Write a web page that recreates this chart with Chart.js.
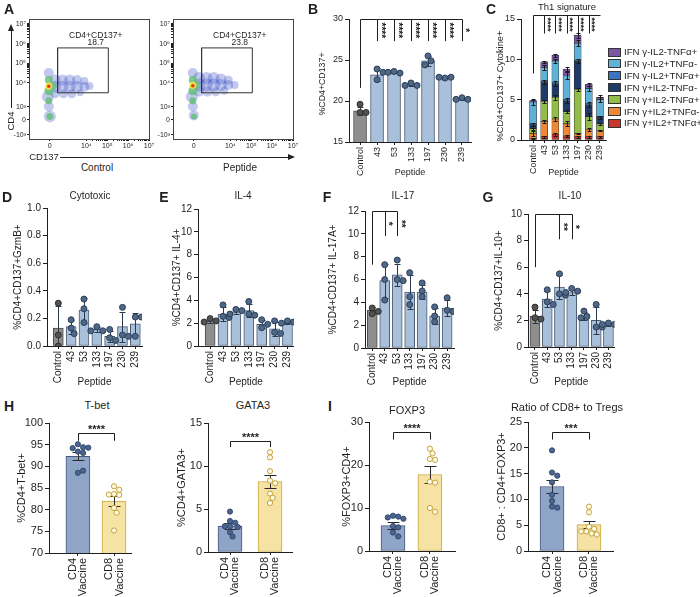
<!DOCTYPE html>
<html>
<head>
<meta charset="utf-8">
<title>Peptide response panels</title>
<script src="https://cdn.jsdelivr.net/npm/chart.js@4.4.1/dist/chart.umd.min.js"></script>
<style>
  body { margin:0; width:700px; height:597px; position:relative; overflow:hidden; background:#fff;
         font-family:'Liberation Sans', Arial, Helvetica, sans-serif; color:#1f1f1f; }
  canvas { position:absolute; }
  .t { position:absolute; white-space:nowrap; transform:translate(-50%,-50%); line-height:1; }
  .v { transform:translate(-50%,-50%) rotate(-90deg); }
  .ln { position:absolute; background:#222; }
  .sw { position:absolute; width:13px; height:9px; box-sizing:border-box; border:1px solid #333; }
</style>
</head>
<body>
<script>
// ---------- data ----------
const peptides = ['Control', '43', '53', '133', '197', '230', '239'];
const vaccines = [['CD4', 'Vaccine'], ['CD8', 'Vaccine']];

// A - flow plots (tick labels of the biexponential axes and the density blobs)
const flowXPos = [2.24, 4, 5, 6, 7];
const flowXLab = ['0', '10⁴', '10⁵', '10⁶', '10⁷'];
const flowYPos = [1.37, 2.13, 2.79, 4, 5, 6, 7];
const flowYLab = ['-10³', '0', '10³', '10⁴', '10⁵', '10⁶', '10⁷'];
const gateX = [2.62, 5.05];
const gateY = [3.5, 5.78];
const gateName = 'CD4+CD137+';
const gatePct = ['18.7', '23.8'];
const ctrlDotX = [2.5, 2.85, 3.2, 3.55, 3.9, 2.5, 2.85, 3.2, 3.55, 3.9, 4.15, 2.5, 2.9, 3.3, 3.7,
                  2.2, 2.15, 2.2, 2.25, 2.2, 2.2, 2.2, 2.25, 2.4, 2.2, 2.2];
const ctrlDotY = [4.15, 4.15, 4.15, 4.15, 4.1, 3.8, 3.8, 3.8, 3.8, 3.8, 3.85, 3.45, 3.45, 3.45, 3.5,
                  4.5, 3.3, 2.8, 2.3, 4.15, 3.6, 3.1, 2.3, 3.85, 3.85, 3.83];
const ctrlDotR = [5.5, 5.5, 5.5, 5, 4, 6, 6, 6, 6, 5, 4, 4.5, 4.5, 4.5, 3.5,
                  5, 6, 5, 6, 4, 4.5, 3.5, 3.5, 3.5, 3.5, 1.8];
const ctrlDotL = [0, 0, 0, 0, 0, 0, 0, 0, 0, 0, 0, 0, 0, 0, 0, 0, 0, 0, 0, 1, 1, 1, 1, 1, 2, 3];
const pepDotX = [2.5, 2.85, 3.2, 3.55, 3.9, 2.5, 2.85, 3.2, 3.55, 3.9, 4.2, 2.5, 2.9, 3.3, 3.7,
                 2.2, 2.15, 2.2, 2.25, 2.2, 2.2, 2.2, 2.25, 2.4, 2.2, 2.2];
const pepDotY = [4.25, 4.25, 4.25, 4.2, 4.15, 3.9, 3.9, 3.9, 3.9, 3.9, 3.9, 3.55, 3.55, 3.55, 3.6,
                 4.5, 3.3, 2.8, 2.35, 4.15, 3.6, 3.1, 2.3, 3.9, 3.88, 3.86];
const pepDotR = [6, 6, 6, 5.5, 4.5, 6.5, 6.5, 6.5, 6, 5, 4, 5, 5, 4.5, 4,
                 5, 6, 5, 5, 4, 4.5, 3.5, 3, 3.5, 3.5, 1.8];
const pepDotL = [0, 0, 0, 0, 0, 0, 0, 0, 0, 0, 0, 0, 0, 0, 0, 0, 0, 0, 0, 1, 1, 1, 1, 1, 2, 3];

// B - %CD4+CD137+
const bMean = [18.8, 23.2, 23.5, 22.0, 24.9, 22.9, 20.3];
const bErr = [0.5, 0.8, 0.1, 0.2, 0.6, 0.1, 0.2];
const bPts = [[19.6, 18.6, 18.6], [23.9, 23.5, 22.6], [23.6, 23.4, 23.5], [22.2, 21.9, 21.9],
              [25.5, 24.9, 24.4], [22.8, 22.9, 22.9], [20.4, 20.2, 20.2]];
const bSig = ['****', '****', '****', '****', '****', '*'];

// C - Th1 signature, stacked (bottom to top)
const cSeries = ['IFN γ+IL2+TNFα+', 'IFN γ+IL2+TNFα-', 'IFN γ+IL2-TNFα+', 'IFN γ+IL2-TNFα-',
                 'IFN γ-IL2+TNFα+', 'IFN γ-IL2+TNFα-', 'IFN γ-IL2-TNFα+'];
const cVals = [
  [0.2, 0.4, 0.7, 0.5, 0.4, 0.4, 0.4],
  [0.6, 1.9, 1.9, 1.5, 0.4, 0.9, 0.8],
  [0.6, 2.5, 2.7, 1.5, 5.5, 1.6, 0.8],
  [0.5, 2.4, 1.7, 1.4, 3.5, 1.5, 0.8],
  [0.1, 0.1, 0.1, 0.1, 0.1, 0.1, 0.1],
  [2.7, 1.7, 2.7, 3.0, 2.1, 1.9, 2.1],
  [0.2, 0.7, 0.7, 0.8, 1.0, 0.5, 0.3]
];
const cErr = [
  [0.1, 0.1, 0.2, 0.1, 0.1, 0.1, 0.1],
  [0.3, 0.2, 0.2, 0.3, 0.1, 0.2, 0.1],
  [0.1, 0.2, 0.3, 0.2, 0.2, 0.4, 0.1],
  [0.2, 0.3, 0.3, 0.3, 0.3, 0.3, 0.2],
  [0, 0, 0, 0, 0, 0, 0],
  [0.3, 0.3, 0.3, 0.4, 0.4, 0.3, 0.3],
  [0.2, 0.1, 0.2, 0.3, 0.3, 0.2, 0.3]
];
const cSig = ['****', '****', '****', '****', '****'];

// D - cytotoxic
const dMean = [0.13, 0.14, 0.26, 0.12, 0.07, 0.14, 0.16];
const dErr = [0.16, 0.05, 0.09, 0.02, 0.04, 0.11, 0.08];
const dPts = [[0.31, 0.08, 0.0], [0.19, 0.13, 0.09], [0.34, 0.27, 0.17], [0.14, 0.11, 0.11],
              [0.12, 0.06, 0.04], [0.28, 0.08, 0.07], [0.21, 0.21, 0.07]];

// E - IL-4
const eMean = [2.2, 2.8, 3.0, 3.1, 1.9, 1.5, 2.0];
const eErr = [0.15, 0.6, 0.2, 0.6, 0.35, 0.6, 0.1];
const ePts = [[2.4, 2.2, 2.1], [3.6, 2.6, 2.5], [3.2, 3.1, 2.8], [3.9, 2.8, 2.7],
              [2.3, 1.9, 1.6], [2.2, 1.2, 1.1], [2.2, 2.1, 2.0]];

// F - IL-17
const fMean = [3.3, 5.9, 6.4, 4.9, 4.9, 2.8, 3.5];
const fErr = [0.3, 1.5, 1.0, 1.5, 0.6, 0.7, 0.7];
const fPts = [[3.5, 3.2, 3.0], [7.3, 6.0, 4.2], [7.7, 6.0, 5.9], [6.6, 4.5, 3.8],
              [5.7, 5.0, 4.5], [3.6, 2.8, 2.3], [4.4, 3.3, 3.2]];
const fSig = ['*', '**'];

// G - IL-10
const gMean = [2.3, 3.6, 4.5, 4.1, 2.3, 2.0, 1.7];
const gErr = [0.5, 0.6, 0.9, 0.2, 0.3, 1.0, 0.1];
const gPts = [[3.0, 2.2, 2.1], [4.3, 3.4, 3.2], [5.5, 4.0, 3.9], [4.4, 4.2, 4.1],
              [2.7, 2.3, 2.2], [3.2, 1.5, 1.5], [1.8, 1.7, 1.7]];
const gSig = ['**', '*'];

// H / I - vaccines
const tbetMean = [92.3, 82.0];
const tbetErr = [0.9, 1.1];
const tbetPts = [[95.1, 94.4, 94.2, 94.3, 93.4, 93.1, 88.5, 89.0], [85.4, 84.6, 83.6, 83.4, 83.5, 80.4, 79.3, 75.2]];
const gataMean = [3.0, 8.2];
const gataErr = [0.35, 0.8];
const gataPts = [[4.7, 3.6, 3.4, 3.0, 3.0, 2.9, 2.3, 1.8], [11.6, 11.0, 9.4, 8.3, 8.0, 6.8, 6.3, 5.7]];
const foxMean = [5.9, 17.8];
const foxErr = [0.75, 2.0];
const foxPts = [[8.2, 8.0, 7.8, 7.5, 5.8, 5.5, 4.3, 3.4], [23.8, 22.7, 21.4, 21.2, 16.1, 15.9, 10.0, 9.1]];
const ratioMean = [12.5, 5.1];
const ratioErr = [1.3, 0.7];
const ratioPts = [[19.5, 15.2, 14.6, 13.3, 10.9, 9.7, 8.6, 8.4], [8.6, 7.5, 4.7, 4.3, 3.8, 3.8, 3.4, 3.2]];

// ---------- styling ----------
const ink = '#1f1f1f';
const fam = "'Liberation Sans', Arial, Helvetica, sans-serif";
Chart.defaults.font.family = fam;
Chart.defaults.color = ink;
Chart.defaults.animation = false;
Chart.defaults.plugins.legend.display = false;
Chart.defaults.plugins.tooltip.enabled = false;

const cColors = ['#c8362c', '#ec8838', '#93bd48', '#1f3b68', '#3a74c3', '#5fb2d7', '#7c56a3'];
const densityColors = ['rgba(40,62,192,0.28)', 'rgba(96,190,118,0.8)', 'rgba(244,226,60,0.95)', 'rgba(226,48,28,0.95)'];
const pepStyle = {
  fill: peptides.map((_, i) => i ? '#a9c0da' : '#8e8e8e'),
  edge: peptides.map((_, i) => i ? '#4a5b73' : '#4b4b4b'),
  dotFill: peptides.map((_, i) => i ? '#4f6888' : '#525252'),
  dotEdge: peptides.map((_, i) => i ? '#2c3e57' : '#2e2e2e'),
  errColor: '#2c3a4e'
};
const vacStyle = {
  fill: ['#8ea5c8', '#f6e3a3'],
  edge: ['#46597c', '#c8a845'],
  dotFill: ['#4a6590', '#fffbe8'],
  dotEdge: ['#344a6e', '#c4a238'],
  errColor: '#2a2a2a'
};

// ---------- helpers ----------
function addCanvas(box) {
  const c = document.createElement('canvas');
  c.width = box.w; c.height = box.h;
  c.style.left = box.x + 'px'; c.style.top = box.y + 'px';
  c.style.width = box.w + 'px'; c.style.height = box.h + 'px';
  document.body.appendChild(c);
  return c.getContext('2d');
}

function label(s, x, y, size, o) {
  o = o || {};
  const d = document.createElement('div');
  d.className = 't' + (o.rot ? ' v' : '');
  d.textContent = s;
  d.style.left = x + 'px'; d.style.top = y + 'px'; d.style.fontSize = size + 'px';
  if (o.bold) d.style.fontWeight = 'bold';
  if (o.left) d.style.transform = 'translate(0,-50%)';
  document.body.appendChild(d);
}

function rule(x, y, w, h) {
  const d = document.createElement('div');
  d.className = 'ln';
  Object.assign(d.style, { left: x + 'px', top: y + 'px', width: w + 'px', height: h + 'px' });
  document.body.appendChild(d);
}

function head(x, y, dir) {
  const d = document.createElement('div');
  d.style.position = 'absolute'; d.style.width = '0'; d.style.height = '0';
  if (dir === 'right') {
    Object.assign(d.style, { left: (x - 7) + 'px', top: (y - 3) + 'px', borderLeft: '7px solid #222',
      borderTop: '3px solid transparent', borderBottom: '3px solid transparent' });
  } else {
    Object.assign(d.style, { left: (x - 3) + 'px', top: y + 'px', borderBottom: '7px solid #222',
      borderLeft: '3px solid transparent', borderRight: '3px solid transparent' });
  }
  document.body.appendChild(d);
}

const crisp = v => Math.round(v) + 0.5;

// simple beeswarm so the replicate dots do not overlap
function swarm(groups, p) {
  const pxX = (p.area.r - p.area.l) / (p.xMax - p.xMin);
  const pxY = (p.area.b - p.area.t) / (p.yMax - p.yMin);
  const out = [];
  groups.forEach((vals, g) => {
    const placed = [];
    vals.forEach(v => {
      const py = v * pxY;
      let off = 0;
      for (let s = 0; s < 14; s++) {
        const c = s === 0 ? 0 : Math.ceil(s / 2) * p.dotR * (s % 2 ? 1 : -1);
        if (placed.every(q => Math.hypot(q.x - c, q.y - py) >= p.dotR * 1.9)) { off = c; break; }
      }
      placed.push({ x: off, y: py });
      out.push({ x: g + off / pxX, y: v, g: g });
    });
  });
  return out;
}

function errBars(sets) {
  return {
    id: 'errbars',
    afterDatasetDraw(chart, args) {
      const s = sets.find(q => q.ds === args.index);
      if (!s) return;
      const ctx = chart.ctx, ys = chart.scales.y;
      const k = Math.abs(ys.getPixelForValue(0) - ys.getPixelForValue(1));
      ctx.save();
      ctx.lineWidth = 1;
      ctx.strokeStyle = s.color;
      args.meta.data.forEach((el, i) => {
        const e = s.err[i];
        if (!e) return;
        const x = crisp(el.x), w = s.cap / 2;
        const top = crisp(el.y - e * k), bot = Math.min(crisp(el.y + e * k), ys.bottom);
        ctx.beginPath();
        ctx.moveTo(x, top); ctx.lineTo(x, bot);
        ctx.moveTo(x - w, top); ctx.lineTo(x + w, top);
        if (bot < ys.bottom) { ctx.moveTo(x - w, bot); ctx.lineTo(x + w, bot); }
        ctx.stroke();
      });
      ctx.restore();
    }
  };
}

// Prism style comb: control vs each peptide
function combSig(sp) {
  return {
    id: 'combsig',
    afterDraw(chart) {
      const ctx = chart.ctx, xs = chart.scales.x, ys = chart.scales.y;
      const yt = crisp(ys.getPixelForValue(sp.top));
      const yd = ys.getPixelForValue(sp.drop);
      const x0 = crisp(xs.getPixelForValue(0));
      ctx.save();
      ctx.strokeStyle = ink; ctx.lineWidth = 1;
      ctx.beginPath();
      ctx.moveTo(x0, ys.getPixelForValue(sp.ref)); ctx.lineTo(x0, yt);
      ctx.lineTo(crisp(xs.getPixelForValue(sp.end)), yt);
      sp.idx.forEach(i => { const x = crisp(xs.getPixelForValue(i)); ctx.moveTo(x, yt); ctx.lineTo(x, yd); });
      ctx.stroke();
      ctx.fillStyle = ink; ctx.font = 'bold ' + sp.fs + 'px ' + fam;
      ctx.textAlign = 'center'; ctx.textBaseline = 'alphabetic';
      sp.idx.forEach((i, j) => {
        ctx.save();
        ctx.translate(xs.getPixelForValue(i) + 0.5, (yt + yd) / 2);
        ctx.rotate(Math.PI / 2);
        ctx.fillText(sp.text[j], 0, 0);
        ctx.restore();
      });
      ctx.restore();
    }
  };
}

function pairSig(sp) {
  return {
    id: 'pairsig',
    afterDraw(chart) {
      const ctx = chart.ctx, xs = chart.scales.x, ys = chart.scales.y;
      const x0 = crisp(xs.getPixelForValue(0)), x1 = crisp(xs.getPixelForValue(1));
      const yl = crisp(ys.getPixelForValue(sp.y)), yt = ys.getPixelForValue(sp.tip);
      ctx.save();
      ctx.strokeStyle = ink; ctx.lineWidth = 1;
      ctx.beginPath();
      ctx.moveTo(x0, yt); ctx.lineTo(x0, yl); ctx.lineTo(x1, yl); ctx.lineTo(x1, yt);
      ctx.stroke();
      ctx.fillStyle = ink; ctx.font = 'bold 11px ' + fam;
      ctx.textAlign = 'center'; ctx.textBaseline = 'alphabetic';
      ctx.fillText(sp.text, (x0 + x1) / 2, yl - 1);
      ctx.restore();
    }
  };
}

// y title drawn lower than the plot centre (as in B and C of the figure)
function sideTitle(p) {
  return {
    id: 'sidetitle',
    afterDraw(chart) {
      if (!p.yTitleAt) return;
      const ctx = chart.ctx;
      ctx.save();
      ctx.fillStyle = ink; ctx.font = (p.yTitleSize || p.fs) + 'px ' + fam;
      ctx.textAlign = 'center'; ctx.textBaseline = 'middle';
      ctx.translate(Math.round(p.yTitleAt[0] - p.box.x), Math.round(p.yTitleAt[1] - p.box.y));
      ctx.rotate(-Math.PI / 2);
      ctx.fillText(p.yTitle, 0, 0);
      ctx.restore();
    }
  };
}

function baseOptions(p) {
  return {
    responsive: false, animation: false, events: [],
    layout: { padding: { top: p.area.t - p.box.y, right: p.box.x + p.box.w - p.area.r, left: 0, bottom: 0 } },
    scales: {
      x: {
        type: 'linear', min: p.xMin, max: p.xMax, offset: false, stacked: !!p.stacked,
        afterBuildTicks: s => { s.ticks = p.labels.map((_, i) => ({ value: i })); },
        afterFit: s => { s.height = p.box.y + p.box.h - p.area.b; },
        ticks: { autoSkip: false, minRotation: 90, maxRotation: 90, padding: 2, labelOffset: p.lblShift || 0,
                 font: { size: p.fs, lineHeight: p.lblLH || 1.2 }, callback: (v, i) => p.labels[i] },
        grid: { drawOnChartArea: false, offset: false, tickLength: 3, color: ink },
        border: { color: ink },
        title: { display: !!p.xTitle, text: p.xTitle || '', font: { size: p.fs }, padding: 0 }
      },
      y: {
        min: p.yMin, max: p.yMax, stacked: !!p.stacked,
        afterFit: s => { s.width = p.area.l - p.box.x; },
        ticks: { stepSize: p.yStep, padding: 2, font: { size: p.fs }, callback: p.yFmt || (v => v) },
        grid: { drawOnChartArea: false, tickLength: 4, color: ink },
        border: { color: ink },
        title: { display: !p.yTitleAt, text: p.yTitle, font: { size: p.fs }, padding: 0 }
      }
    }
  };
}

function barPanel(p) {
  const ctx = addCanvas(p.box);
  const pts = swarm(p.points, p);
  const st = p.style;
  new Chart(ctx, {
    type: 'bar',
    data: {
      datasets: [
        { data: p.means.map((v, i) => ({ x: i, y: v })), backgroundColor: st.fill, borderColor: st.edge,
          borderWidth: 1, borderSkipped: false, barThickness: p.barPx, order: 2 },
        { type: 'scatter', data: pts, order: 1, pointRadius: p.dotR, pointBorderWidth: 1,
          pointBackgroundColor: pts.map(q => st.dotFill[q.g]), pointBorderColor: pts.map(q => st.dotEdge[q.g]) }
      ]
    },
    options: baseOptions(p),
    plugins: [errBars([{ ds: 0, err: p.errs, cap: p.cap, color: st.errColor }]), sideTitle(p)]
      .concat(p.sig ? [p.sig] : [])
  });
}

function flowPanel(p) {
  const ctx = addCanvas(p.box);
  const minors = [];
  [4, 5, 6].forEach(d => { for (let k = 2; k < 10; k++) minors.push(d + Math.log10(k)); });
  const axis = (pos, lab, lo, hi, fit) => ({
    type: 'linear', min: lo, max: hi,
    afterBuildTicks: s => { s.ticks = pos.concat(minors).map(v => ({ value: v })); },
    afterFit: fit,
    ticks: { autoSkip: false, maxRotation: 0, padding: 1, font: { size: 7 },
             callback: v => { const j = pos.findIndex(q => Math.abs(q - v) < 1e-6); return j >= 0 ? lab[j] : ''; } },
    grid: { drawOnChartArea: false, tickLength: 2, color: ink },
    border: { color: ink }
  });
  new Chart(ctx, {
    type: 'bubble',
    data: {
      datasets: [
        { data: p.dx.map((x, i) => ({ x: x, y: p.dy[i], r: p.dr[i] })),
          backgroundColor: p.dl.map(l => densityColors[l]), borderWidth: 0, order: 1 },
        { type: 'line', order: 0, borderColor: '#333', borderWidth: 1, pointRadius: 0, tension: 0, fill: false,
          data: [{ x: gateX[0], y: gateY[0] }, { x: gateX[1], y: gateY[0] }, { x: gateX[1], y: gateY[1] },
                 { x: gateX[0], y: gateY[1] }, { x: gateX[0], y: gateY[0] }] }
      ]
    },
    options: {
      responsive: false, animation: false, events: [],
      layout: { padding: { top: p.area.t - p.box.y, right: p.box.x + p.box.w - p.area.r, left: 0, bottom: 0 } },
      scales: {
        x: axis(flowXPos, flowXLab, 1.25, 7.0, s => { s.height = p.box.y + p.box.h - p.area.b; }),
        y: axis(flowYPos, flowYLab, 1.15, 7.25, s => { s.width = p.area.l - p.box.x; })
      }
    },
    plugins: [{
      id: 'frame',
      afterDraw(chart) {
        const a = chart.chartArea, c = chart.ctx, xs = chart.scales.x, ys = chart.scales.y;
        c.save();
        c.strokeStyle = '#444'; c.lineWidth = 1;
        c.strokeRect(crisp(a.left), crisp(a.top), Math.round(a.right - a.left), Math.round(a.bottom - a.top));
        c.fillStyle = ink; c.font = '8.5px ' + fam; c.textAlign = 'center'; c.textBaseline = 'middle';
        const lx = xs.getPixelForValue(4.45), ly = ys.getPixelForValue(6.4);
        c.fillText(gateName, lx, ly);
        c.fillText(p.pct, lx, ly + 7);
        c.restore();
      }
    }]
  });
}

// ---------- A ----------
flowPanel({ box: { x: 12, y: 10, w: 145, h: 147 }, area: { l: 29, t: 19, r: 149, b: 139 },
            dx: ctrlDotX, dy: ctrlDotY, dr: ctrlDotR, dl: ctrlDotL, pct: gatePct[0] });
flowPanel({ box: { x: 156, y: 10, w: 145, h: 147 }, area: { l: 173, t: 19, r: 293, b: 139 },
            dx: pepDotX, dy: pepDotY, dr: pepDotR, dl: pepDotL, pct: gatePct[1] });

// ---------- B ----------
barPanel({ box: { x: 314, y: 0, w: 165, h: 178 }, area: { l: 349, t: 19, r: 471, b: 142 },
  labels: peptides, means: bMean, errs: bErr, points: bPts, style: pepStyle,
  xMin: -0.65, xMax: 6.53, yMin: 15, yMax: 30, yStep: 5, fs: 9, barPx: 13, dotR: 3, cap: 6,
  yTitle: '%CD4+CD137+', yTitleAt: [323, 84], yTitleSize: 8.8, xTitle: 'Peptide',
  sig: combSig({ top: 30, ref: 21.6, drop: 27.3, end: 6, idx: [1, 2, 3, 4, 5, 6], text: bSig, fs: 10 }) });

// ---------- C ----------
(function () {
  const p = { box: { x: 492, y: 0, w: 122, h: 178 }, area: { l: 521, t: 19, r: 606, b: 140 },
    labels: peptides, xMin: -1.08, xMax: 6.54, yMin: 0, yMax: 15, yStep: 5, fs: 9, stacked: true,
    yTitle: '%CD4+CD137+ Cytokine+', yTitleAt: [500, 86], yTitleSize: 9.3, xTitle: 'Peptide' };
  const ctx = addCanvas(p.box);
  new Chart(ctx, {
    type: 'bar',
    data: {
      datasets: cSeries.map((name, s) => ({
        label: name, data: cVals[s].map((v, i) => ({ x: i, y: v })), backgroundColor: cColors[s],
        borderColor: '#2a2a2a', borderWidth: 0.6, borderSkipped: false, barThickness: 7
      }))
    },
    options: baseOptions(p),
    plugins: [errBars(cSeries.map((_, s) => ({ ds: s, err: cErr[s], cap: 4, color: '#1a1a1a' }))), sideTitle(p),
              combSig({ top: 15.5, ref: 8.25, drop: 13.2, end: 6, idx: [1, 2, 3, 4, 5], text: cSig, fs: 9 })]
  });
})();

// ---------- D - G ----------
barPanel({ box: { x: 12, y: 198, w: 138, h: 190 }, area: { l: 47, t: 208, r: 142, b: 346 },
  labels: peptides, means: dMean, errs: dErr, points: dPts, style: pepStyle,
  xMin: -0.88, xMax: 6.52, yMin: 0, yMax: 1, yStep: 0.2, yFmt: v => v.toFixed(1), fs: 10, barPx: 10, dotR: 3, cap: 6,
  yTitle: '%CD4+CD137+GzmB+', xTitle: 'Peptide' });
barPanel({ box: { x: 171, y: 198, w: 131, h: 190 }, area: { l: 198, t: 209, r: 294, b: 346 },
  labels: peptides, means: eMean, errs: eErr, points: ePts, style: pepStyle,
  xMin: -0.94, xMax: 6.5, yMin: 0, yMax: 12, yStep: 2, fs: 10, barPx: 10, dotR: 3, cap: 6,
  yTitle: '%CD4+CD137+ IL-4+', xTitle: 'Peptide' });
barPanel({ box: { x: 327, y: 198, w: 135, h: 190 }, area: { l: 365, t: 211, r: 454, b: 348 },
  labels: peptides, means: fMean, errs: fErr, points: fPts, style: pepStyle,
  xMin: -0.58, xMax: 6.55, yMin: 0, yMax: 12, yStep: 2, fs: 10, barPx: 10, dotR: 3, cap: 6,
  yTitle: '%CD4+CD137+ IL-17A+', xTitle: 'Peptide',
  sig: combSig({ top: 12, ref: 7.3, drop: 9.8, end: 2, idx: [1, 2], text: fSig, fs: 10 }) });
barPanel({ box: { x: 493, y: 198, w: 130, h: 190 }, area: { l: 528, t: 214, r: 615, b: 347 },
  labels: peptides, means: gMean, errs: gErr, points: gPts, style: pepStyle,
  xMin: -0.57, xMax: 6.5, yMin: 0, yMax: 10, yStep: 2, fs: 10, barPx: 10, dotR: 3, cap: 6,
  yTitle: '%CD4+CD137+IL-10+', xTitle: 'Peptide',
  sig: combSig({ top: 10, ref: 6.0, drop: 8.1, end: 3, idx: [2, 3], text: gSig, fs: 10 }) });

// ---------- H / I ----------
const vac = { labels: vaccines, style: vacStyle, fs: 11, barPx: 24, dotR: 2.6, cap: 12, lblShift: -5, lblLH: 0.95 };
barPanel(Object.assign({}, vac, { box: { x: 15, y: 413, w: 124, h: 184 }, area: { l: 49, t: 423, r: 131, b: 553 },
  means: tbetMean, errs: tbetErr, points: tbetPts, xMin: -0.8, xMax: 1.47, yMin: 70, yMax: 100, yStep: 5,
  yTitle: '%CD4+T-bet+', sig: pairSig({ y: 97.8, tip: 95.9, text: '****' }) }));
barPanel(Object.assign({}, vac, { box: { x: 175, y: 413, w: 125, h: 184 }, area: { l: 208, t: 423, r: 292, b: 552 },
  means: gataMean, errs: gataErr, points: gataPts, xMin: -0.55, xMax: 1.55, yMin: 0, yMax: 15, yStep: 5,
  yTitle: '%CD4+GATA3+', sig: pairSig({ y: 12.9, tip: 12.2, text: '****' }) }));
barPanel(Object.assign({}, vac, { box: { x: 340, y: 412, w: 123, h: 185 }, area: { l: 369, t: 422, r: 455, b: 551 },
  means: foxMean, errs: foxErr, points: foxPts, xMin: -0.65, xMax: 1.68, yMin: 0, yMax: 30, yStep: 10,
  yTitle: '%FOXP3+CD4+', sig: pairSig({ y: 27.7, tip: 25.9, text: '****' }) }));
barPanel(Object.assign({}, vac, { box: { x: 495, y: 412, w: 126, h: 185 }, area: { l: 528, t: 422, r: 613, b: 551 },
  means: ratioMean, errs: ratioErr, points: ratioPts, xMin: -0.65, xMax: 1.65, yMin: 0, yMax: 25, yStep: 5,
  yTitle: 'CD8+ : CD4+FOXP3+', sig: pairSig({ y: 23.1, tip: 21.6, text: '***' }) }));

// ---------- text, arrows, legend ----------
[['A', 9, 9], ['B', 313, 9], ['C', 491, 9], ['D', 7, 197], ['E', 164, 197], ['F', 327, 197],
 ['G', 488, 197], ['H', 9, 406], ['I', 330, 406]].forEach(l => label(l[0], l[1], l[2], 14, { bold: true }));
label('Th1 signature', 567, 7, 9.5);
label('Cytotoxic', 90, 196, 10);
label('IL-4', 243, 196, 10);
label('IL-17', 403, 196, 10);
label('IL-10', 570, 196, 10);
label('T-bet', 97, 405, 11);
label('GATA3', 253, 405, 11);
label('FOXP3', 407, 410, 11);
label('Ratio of CD8+ to Tregs', 567, 407, 11);
label('Control', 97, 168, 10);
label('Peptide', 240, 168, 10);
label('CD137', 44, 157, 9.5);
label('CD4', 11, 121, 9.5, { rot: true });
rule(60, 156.5, 229, 1); head(295, 157, 'right');
rule(10.5, 30, 1, 78); head(11, 24, 'up');

cSeries.slice().reverse().forEach((name, k) => {
  const y = 52 + k * 11.9;
  const sw = document.createElement('div');
  sw.className = 'sw';
  sw.style.left = '608px'; sw.style.top = (y - 4.5) + 'px';
  sw.style.background = cColors[cSeries.length - 1 - k];
  document.body.appendChild(sw);
  label(name, 624, y, 9.7, { left: true });
});
</script>
</body>
</html>
